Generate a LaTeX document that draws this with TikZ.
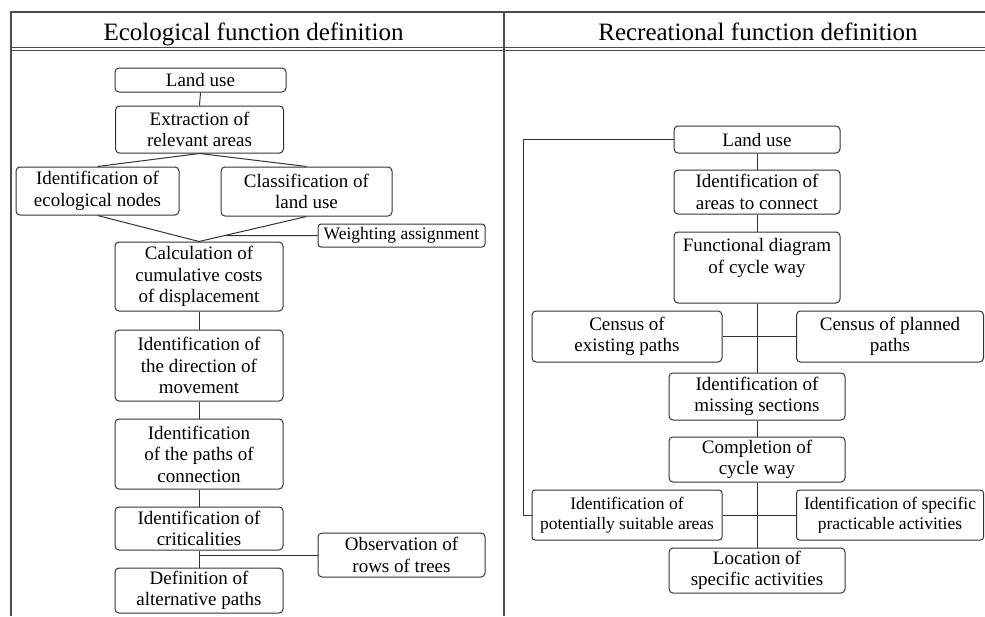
\documentclass[tikz,border=0pt]{standalone}
\usepackage{fontspec}
\setmainfont{Liberation Serif}

\begin{document}
\begin{tikzpicture}[x=1pt,y=-1pt,
            stepbox/.style={draw=black!80,line width=1pt,rounded corners=4pt,align=center,inner sep=2pt,
                font=\fontsize{19}{21.5}\selectfont},
            smallbox/.style={stepbox,rounded corners=3pt,font=\fontsize{17.5}{20}\selectfont},
            link/.style={draw=black!80,line width=1pt},
            frameline/.style={draw=black!70,line width=1.3pt},
            titletext/.style={anchor=base,font=\fontsize{25}{30}\selectfont}]

            \useasboundingbox (0,0) rectangle (985,616);

            % Table frame and the two headings
            \draw[frameline] (11,616) -- (11,12) -- (985,12);
            \draw[frameline] (504,12) -- (504,616);
            \draw[black!70,line width=1pt] (11,47) -- (985,47);
            \draw[black!70,line width=1pt] (11,50.5) -- (985,50.5);
            \node[titletext] (ltitle) at (253.5,40) {Ecological function definition};
            \node[titletext] (rtitle) at (758,40) {Recreational function definition};

            % Ecological column
            \node[stepbox,minimum width=171,minimum height=24] (lland) at (200.5,80) {Land use};
            \node[stepbox,minimum width=168,minimum height=47] (lextract) at (199.5,129.5) {Extraction of\\relevant areas};
            \node[stepbox,minimum width=163,minimum height=48] (lnodes) at (97.5,191) {Identification of\\ecological nodes};
            \node[stepbox,minimum width=171,minimum height=49] (lclass) at (306.5,191.5) {Classification of\\land use};
            \node[smallbox,minimum width=167,minimum height=23] (lweight) at (401.5,235.5) {Weighting assignment};
            \node[stepbox,minimum width=168,minimum height=69] (lcalc) at (199,276.5) {Calculation of\\cumulative costs\\of displacement};
            \node[stepbox,minimum width=168,minimum height=71] (ldirect) at (199,365.5) {Identification of\\the direction of\\movement};
            \node[stepbox,minimum width=168,minimum height=70] (lpaths) at (199,454) {Identification\\of the paths of\\connection};
            \node[stepbox,minimum width=168,minimum height=43] (lcrit) at (199,528.5) {Identification of\\criticalities};
            \node[stepbox,minimum width=168,minimum height=45] (ldefine) at (199,590.5) {Definition of\\alternative paths};
            \node[stepbox,minimum width=167,minimum height=44] (lobserve) at (401.5,555) {Observation of\\rows of trees};

            \foreach \a/\b in {lland/lextract, lextract/lnodes, lextract/lclass, lnodes/lcalc, lclass/lcalc,
                lcalc/ldirect, ldirect/lpaths, lpaths/lcrit, lcrit/ldefine} {
                \draw[link] (\a.south) -- (\b.north);
            }
            \draw[link] (lweight.west) -- (intersection of lclass.south--lcalc.north and lweight.west--lweight.east);
            \draw[link] (lobserve.west) -- (lobserve.west -| lcrit.south);

            % Recreational column
            \node[stepbox,minimum width=166,minimum height=27] (rland) at (757,139.5) {Land use};
            \node[stepbox,minimum width=166,minimum height=44] (rareas) at (757,192) {Identification of\\areas to connect};
            \node[stepbox,minimum width=166,minimum height=71,text depth=23pt] (rdiagram) at (757,267.5) {Functional diagram\\of cycle way};
            \node[stepbox,minimum width=190,minimum height=51] (rexist) at (627,336.5) {Census of\\existing paths};
            \node[stepbox,minimum width=187,minimum height=51] (rplanned) at (890,336.5) {Census of planned\\paths};
            \node[stepbox,minimum width=176,minimum height=47] (rmissing) at (757,396.5) {Identification of\\missing sections};
            \node[stepbox,minimum width=176,minimum height=45] (rcomplete) at (757,459.5) {Completion of\\cycle way};
            \node[smallbox,minimum width=190,minimum height=50] (rsuitable) at (627,515) {Identification of\\potentially suitable areas};
            \node[smallbox,minimum width=187,minimum height=50] (rspecific) at (890,515) {Identification of specific\\practicable activities};
            \node[stepbox,minimum width=176,minimum height=45] (rlocation) at (757,570.5) {Location of\\specific activities};
            \coordinate (rloop) at (523,139.5);

            \foreach \a/\b in {rland/rareas, rareas/rdiagram, rdiagram/rmissing, rmissing/rcomplete, rcomplete/rlocation} {
                \draw[link] (\a.south) -- (\b.north);
            }
            \draw[link] (rexist.east) -- (rplanned.west);
            \draw[link] (rsuitable.east) -- (rspecific.west);
            \draw[link] (rland.west) -- (rloop) |- (rsuitable.west);

        \end{tikzpicture}
\end{document}
